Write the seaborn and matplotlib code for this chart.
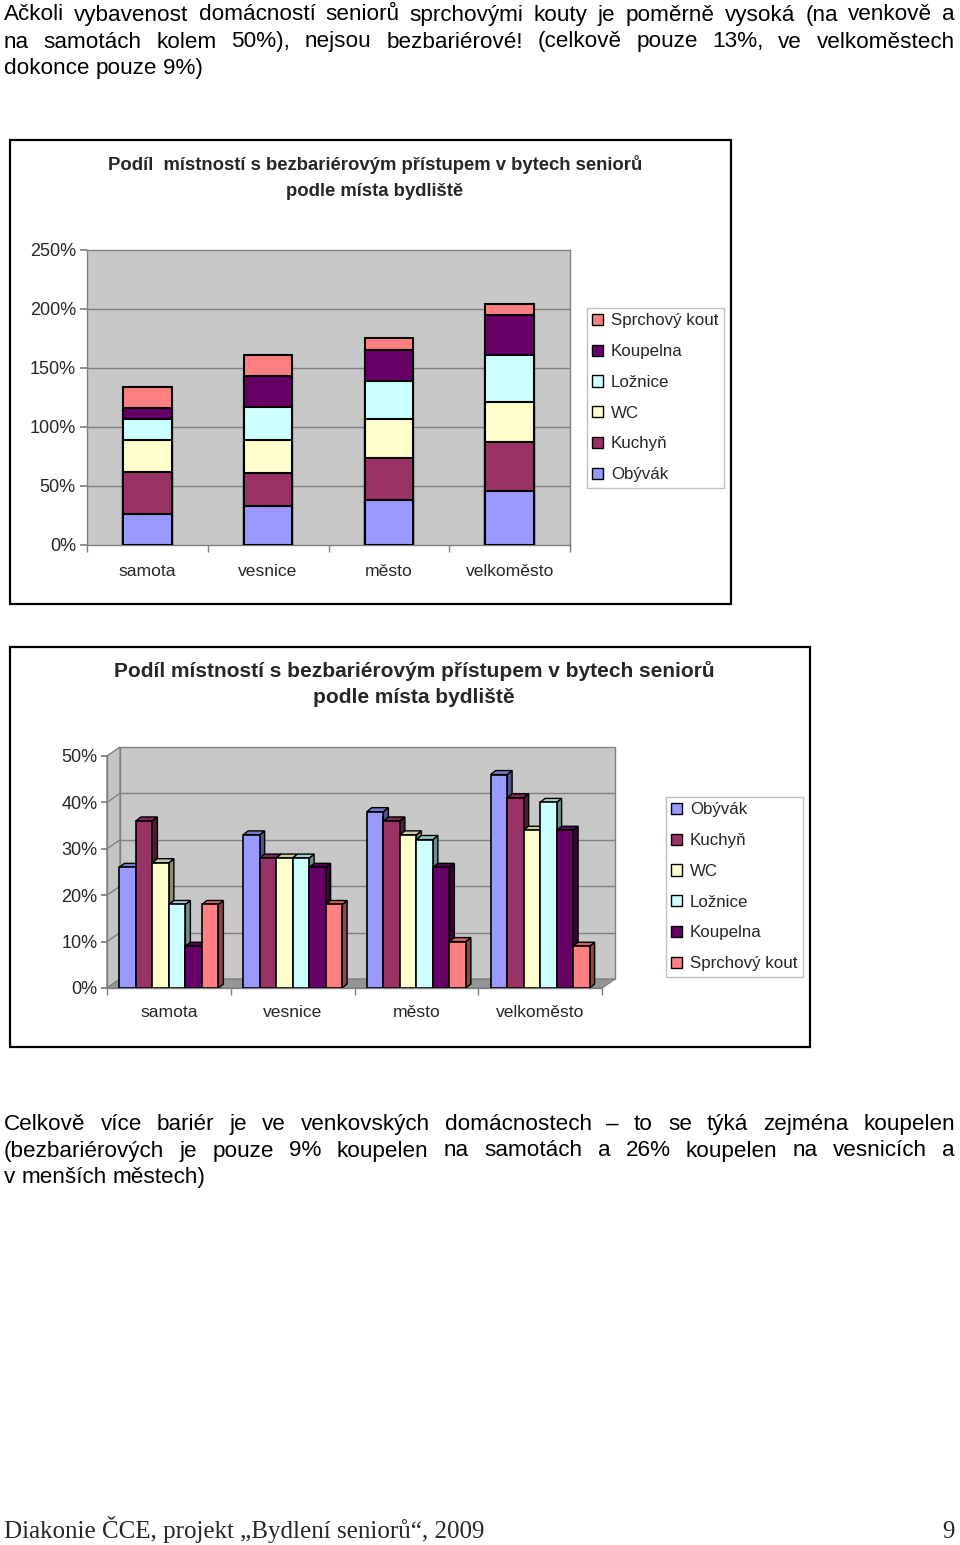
import matplotlib
matplotlib.use("Agg")
import matplotlib.pyplot as plt
from matplotlib.patches import Rectangle, Polygon, Patch
from matplotlib.lines import Line2D
import seaborn as sns
import pandas as pd
import numpy as np

# ---------------- data ----------------
places = ["samota", "vesnice", "město", "velkoměsto"]
rooms = ["Obývák", "Kuchyň", "WC", "Ložnice", "Koupelna", "Sprchový kout"]
obyvak = [26, 33, 38, 46]
kuchyn = [36, 28, 36, 41]
wc = [27, 28, 33, 34]
loznice = [18, 28, 32, 40]
koupelna = [9, 26, 26, 34]
sprchovy = [18, 18, 10, 9]
room_colors = ["#9999FF", "#993366", "#FFFFCC", "#CCFFFF", "#660066", "#FF8080"]
stack_ticks = [0, 0.5, 1.0, 1.5, 2.0, 2.5]
stack_ticklabels = ["0%", "50%", "100%", "150%", "200%", "250%"]
bar_ticks = [0, 0.1, 0.2, 0.3, 0.4, 0.5]
bar_ticklabels = ["0%", "10%", "20%", "30%", "40%", "50%"]
title_lines = ["Podíl  místností s bezbariérovým přístupem v bytech seniorů",
               "podle místa bydliště"]
title_lines2 = ["Podíl místností s bezbariérovým přístupem v bytech seniorů",
                "podle místa bydliště"]
para1 = ["Ačkoli vybavenost domácností seniorů sprchovými kouty je poměrně vysoká (na venkově a",
         "na samotách kolem 50%), nejsou bezbariérové! (celkově pouze 13%, ve velkoměstech",
         "dokonce pouze 9%)"]
para2 = ["Celkově více bariér je ve venkovských domácnostech – to se týká zejména koupelen",
         "(bezbariérových je pouze 9% koupelen na samotách a 26% koupelen na vesnicích a",
         "v menších městech)"]
footer_left = "Diakonie ČCE, projekt „Bydlení seniorů“, 2009"
footer_right = "9"

values = [obyvak, kuchyn, wc, loznice, koupelna, sprchovy]

sns.set_theme(style="white")
plt.rcParams["font.family"] = ["Liberation Sans", "DejaVu Sans"]

W, H = 960, 1545
fig = plt.figure(figsize=(W / 100, H / 100), dpi=100)
fig.patch.set_facecolor("white")


def fx(x):
    return x / W


def fy(y):
    return 1 - y / H


def rect_axes(x0, y0, x1, y1):
    return fig.add_axes([fx(x0), fy(y1), (x1 - x0) / W, (y1 - y0) / H])


renderer = fig.canvas.get_renderer()


def text_line(s, x0, x1, ybase, size, justify, family=None):
    words = s.split(" ")
    kw = dict(fontsize=size, va="baseline", ha="left", color="black")
    if family:
        kw["family"] = family
    arts = []
    widths = []
    for w in words:
        t = fig.text(0, fy(ybase), w, **kw)
        arts.append(t)
        widths.append(t.get_window_extent(renderer).width)
    if justify and len(words) > 1:
        gap = (x1 - x0 - sum(widths)) / (len(words) - 1)
    else:
        t1 = fig.text(0, 0, "a a", **kw)
        t2 = fig.text(0, 0, "aa", **kw)
        gap = t1.get_window_extent(renderer).width - t2.get_window_extent(renderer).width
        t1.remove()
        t2.remove()
    x = x0
    for t, w in zip(arts, widths):
        t.set_x(fx(x))
        x += w + gap


# ---------------- paragraphs ----------------
for s, yb, j in zip(para1, [20.5, 47.5, 74], [True, True, False]):
    text_line(s, 4, 955, yb, 16.2, j)
for s, yb, j in zip(para2, [1130, 1156.5, 1183], [True, True, False]):
    text_line(s, 4, 955, yb, 16.2, j)

fig.text(fx(4), fy(1538), footer_left, fontsize=18, family=["Liberation Serif", "DejaVu Serif"],
         ha="left", va="baseline")
fig.text(fx(955), fy(1538), footer_right, fontsize=18, family=["Liberation Serif", "DejaVu Serif"],
         ha="right", va="baseline")

# ---------------- chart boxes ----------------
for (x0, y0, x1, y1) in [(10, 140, 731, 604), (10, 647, 810, 1047)]:
    fig.add_artist(Rectangle((fx(x0), fy(y1)), (x1 - x0) / W, (y1 - y0) / H,
                             transform=fig.transFigure, fill=False, edgecolor="black", lw=1.6,
                             zorder=10))

GRID = "#808080"
WALL = "#C8C8C8"

# ---------------- top chart: stacked ----------------
fig.text(fx(375), fy(165), title_lines[0], fontsize=13.3, fontweight="bold", ha="center", va="center")
fig.text(fx(375), fy(191), title_lines[1], fontsize=13.3, fontweight="bold", ha="center", va="center")

ax1 = rect_axes(87, 250, 570, 545)
ax1.set_facecolor(WALL)
cum = np.cumsum(np.array(values, dtype=float) / 100.0, axis=0)
for i in range(len(rooms) - 1, -1, -1):
    sns.barplot(x=places, y=cum[i], color=room_colors[i], saturation=1, width=0.4,
                edgecolor="black", linewidth=1.5, ax=ax1, zorder=3)
ax1.set_ylim(0, 2.5)
ax1.set_xlim(-0.5, 3.5)
ax1.set_yticks(stack_ticks)
ax1.set_yticklabels(stack_ticklabels, fontsize=13)
for v in stack_ticks[1:-1]:
    ax1.axhline(v, color=GRID, lw=1, zorder=1)
ax1.set_xticks(range(4))
ax1.set_xticklabels(places, fontsize=12.6)
ax1.set_xticks([-0.5, 0.5, 1.5, 2.5, 3.5], minor=True)
ax1.tick_params(axis="x", which="major", length=0, pad=14)
ax1.tick_params(axis="x", which="minor", length=5, color=GRID, direction="out", bottom=True)
ax1.tick_params(axis="y", length=5, color=GRID, direction="out", pad=3, left=True)
for sp in ax1.spines.values():
    sp.set_color(GRID)
    sp.set_linewidth(1)
ax1.set_xlabel("")
ax1.set_ylabel("")

handles1 = [Patch(facecolor=c, edgecolor="black", lw=1) for c in room_colors]
leg1 = ax1.legend(handles1[::-1], rooms[::-1], loc="upper left",
                  bbox_to_anchor=(fx(587), fy(308)), bbox_transform=fig.transFigure,
                  fontsize=12.2, frameon=True, fancybox=False, borderpad=0.32,
                  handlelength=0.65, handleheight=0.65, handletextpad=0.45,
                  labelspacing=0.93, borderaxespad=0)
leg1.get_frame().set_edgecolor("#B0B0B0")
leg1.get_frame().set_linewidth(1)

# ---------------- bottom chart: 3D-like clustered ----------------
fig.text(fx(414), fy(671), title_lines2[0], fontsize=15, fontweight="bold", ha="center", va="center")
fig.text(fx(414), fy(698), title_lines2[1], fontsize=15, fontweight="bold", ha="center", va="center")

ax2 = rect_axes(107, 756, 602, 988)
ax2.patch.set_visible(False)
df = pd.DataFrame({
    "place": np.repeat(places, len(rooms)),
    "room": rooms * len(places),
    "value": [values[r][p] / 100.0 for p in range(len(places)) for r in range(len(rooms))],
})
sns.barplot(data=df, x="place", y="value", hue="room", hue_order=rooms, order=places,
            palette=room_colors, saturation=1, width=0.8, edgecolor="black", linewidth=1.2,
            legend=False, ax=ax2)
ax2.set_xlim(-0.5, 3.5)
ax2.set_ylim(0, 0.5)

px_x = 495 / 4.0
px_y = 232 / 0.5
wdx, wdy = 13 / px_x, 9 / px_y
bdx, bdy = 5 / px_x, 4 / px_y

bars = list(ax2.patches)
for p in bars:
    x0, w, h = p.get_x(), p.get_width(), p.get_height()
    fc = np.array(p.get_facecolor()[:3])
    p.set_zorder(4)
    side = Polygon([(x0 + w, 0), (x0 + w, h), (x0 + w + bdx, h + bdy), (x0 + w + bdx, bdy)],
                   closed=True, facecolor=fc * 0.55, edgecolor="black", lw=1.0, zorder=3)
    top = Polygon([(x0, h), (x0 + w, h), (x0 + w + bdx, h + bdy), (x0 + bdx, h + bdy)],
                  closed=True, facecolor=fc * 0.8, edgecolor="black", lw=1.0, zorder=3.5)
    ax2.add_patch(side)
    ax2.add_patch(top)

# walls and floor
ax2.add_patch(Rectangle((-0.5 + wdx, wdy), 4, 0.5, facecolor=WALL, edgecolor=GRID, lw=1,
                        zorder=0, clip_on=False))
ax2.add_patch(Polygon([(-0.5, 0), (-0.5, 0.5), (-0.5 + wdx, 0.5 + wdy), (-0.5 + wdx, wdy)],
                      closed=True, facecolor="#C4C4C4", edgecolor=GRID, lw=1, zorder=0.2,
                      clip_on=False))
ax2.add_patch(Polygon([(-0.5, 0), (3.5, 0), (3.5 + wdx, wdy), (-0.5 + wdx, wdy)],
                      closed=True, facecolor="#969696", edgecolor=GRID, lw=1, zorder=0.4,
                      clip_on=False))
for v in bar_ticks[1:-1]:
    ax2.add_line(Line2D([-0.5 + wdx, 3.5 + wdx], [v + wdy, v + wdy], color=GRID, lw=1,
                        zorder=1, clip_on=False))
    ax2.add_line(Line2D([-0.5, -0.5 + wdx], [v, v + wdy], color=GRID, lw=1,
                        zorder=1, clip_on=False))

ax2.set_yticks(bar_ticks)
ax2.set_yticklabels(bar_ticklabels, fontsize=13)
ax2.set_xticks(range(4))
ax2.set_xticklabels(places, fontsize=12.6)
ax2.set_xticks([-0.5, 0.5, 1.5, 2.5, 3.5], minor=True)
ax2.tick_params(axis="x", which="major", length=0, pad=12.5)
ax2.tick_params(axis="x", which="minor", length=5, color=GRID, direction="out", bottom=True)
ax2.tick_params(axis="y", length=4, color=GRID, direction="out", pad=3, left=True)
for k in ["top", "right"]:
    ax2.spines[k].set_visible(False)
for k in ["left", "bottom"]:
    ax2.spines[k].set_color(GRID)
    ax2.spines[k].set_linewidth(1)
ax2.set_xlabel("")
ax2.set_ylabel("")

handles2 = [Patch(facecolor=c, edgecolor="black", lw=1) for c in room_colors]
leg2 = ax2.legend(handles2, rooms, loc="upper left",
                  bbox_to_anchor=(fx(666), fy(797)), bbox_transform=fig.transFigure,
                  fontsize=12.2, frameon=True, fancybox=False, borderpad=0.32,
                  handlelength=0.65, handleheight=0.65, handletextpad=0.45,
                  labelspacing=0.93, borderaxespad=0)
leg2.get_frame().set_edgecolor("#B0B0B0")
leg2.get_frame().set_linewidth(1)

fig.savefig("out.png", dpi=100, facecolor="white")
